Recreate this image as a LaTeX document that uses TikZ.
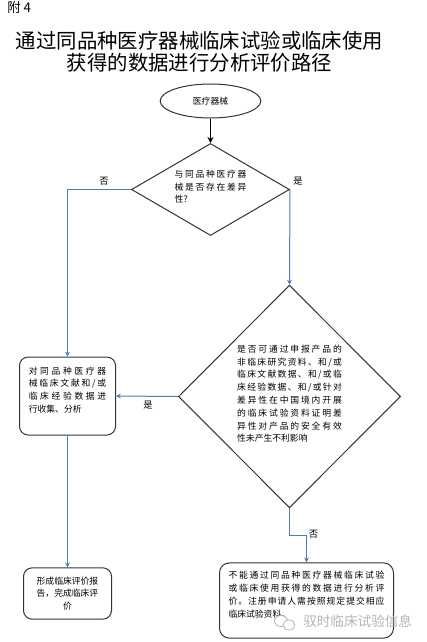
\documentclass[tikz,border=0pt]{standalone}
\usepackage{fontspec}
\setmainfont{Noto Sans CJK SC}
\usetikzlibrary{shapes.geometric,arrows.meta}
\definecolor{linkblue}{HTML}{4A7EBB}
\definecolor{edgegray}{HTML}{333333}
\definecolor{markgray}{HTML}{B4B4B4}
\newlength{\jw}
\def\jlx#1#2{#1\ifx#2\relax\else\hfil\expandafter\jlx\expandafter#2\fi}
\newcommand{\jl}[1]{\hbox to \jw{\jlx#1\relax}}
\tikzset{
  x=0.75pt,y=-0.75pt,
  shapeline/.style={draw=edgegray,line width=0.75pt,fill=white,inner sep=0pt,align=left},
  smalltext/.style={font=\fontsize{6.6}{9.6}\selectfont},
  flow/.style={draw=linkblue,line width=0.75pt,-{Stealth[length=3.6pt,width=3.6pt]}},
  startflow/.style={draw=black,line width=0.8pt,-{Stealth[length=4.5pt,width=4.5pt]}},
  roundbox/.style={shapeline,rectangle,rounded corners=6.5pt},
  branch/.style={font=\fontsize{7}{9}\selectfont,inner sep=0pt},
}
\begin{document}
\begin{tikzpicture}
\useasboundingbox (0,0) rectangle (426,642);
\node[anchor=west,inner sep=0pt,font=\fontsize{10}{12}\selectfont] (fig) at (7,7) {附 4};
\node[inner sep=0pt,align=center,font=\fontsize{15.3}{16.4}\selectfont] (title) at (199.5,52) {通过同品种医疗器械临床试验或临床使用\\获得的数据进行分析评价路径};
\node[shapeline,ellipse,minimum width=75.5pt,minimum height=25.5pt,smalltext] (start) at (210.5,101) {医疗器械};
\setlength{\jw}{54pt}
\node[shapeline,diamond,aspect=1.7,minimum width=118.5pt,minimum height=69pt,smalltext] (d1) at (210.5,189.5)
  {\jl{与同品种医疗器}\\\jl{械是否存在差异}\\性？\\[-5pt]\mbox{}};
\setlength{\jw}{78.5pt}
\node[shapeline,diamond,minimum width=166.5pt,minimum height=167pt,smalltext] (d2) at (289.5,396.5)
  {\jl{是否可通过申报产品的}\\\jl{非临床研究资料、和/或}\\\jl{临床文献数据、和/或临}\\\jl{床经验数据、和/或针对}\\\jl{差异性在中国境内开展}\\\jl{的临床试验资料证明差}\\\jl{异性对产品的安全有效}\\性未产生不利影响\\[-5pt]\mbox{}};
\setlength{\jw}{58pt}
\node[roundbox,minimum width=72pt,minimum height=58.5pt,smalltext] (b1) at (67.5,396)
  {\jl{对同品种医疗器}\\\jl{械临床文献和/或}\\\jl{临床经验数据进}\\行收集、分析\\\mbox{}};
\node[roundbox,align=center,minimum width=66pt,minimum height=38.5pt,smalltext] (b2) at (67.5,593.5)
  {形成临床评价报\\告，完成临床评\\价};
\setlength{\jw}{117pt}
\node[roundbox,rounded corners=7.5pt,minimum width=130.5pt,minimum height=56.5pt,smalltext] (b3) at (306.5,600.5)
  {\jl{不能通过同品种医疗器械临床试验}\\\jl{或临床使用获得的数据进行分析评}\\\jl{价。注册申请人需按照规定提交相应}\\临床试验资料。\\\mbox{}};
\coordinate (bend) at (306.5,535.5);
\draw[startflow] (start.south) -- (d1.north);
\draw[flow] (d1.west) -| (b1.north);
\draw[flow] (d1.east) -- (d2.north);
\draw[flow] (d2.west) -- (b1.east);
\draw[flow] (b1.south) -- (b2.north);
\draw[flow] (d2.south) |- (bend) -- (b3.north);
\node[branch] (no1) at (104,181) {否};
\node[branch] (yes1) at (298,181) {是};
\node[branch] (yes2) at (148,405) {是};
\node[branch] (no2) at (313.5,534) {否};
\draw[markgray,line width=0.6pt,fill=white] (281,621) ellipse (6.5 and 5.5);
\draw[markgray,line width=0.6pt,fill=white] (289,625) ellipse (6 and 5);
\node[anchor=west,inner sep=0pt,text=markgray,font=\fontsize{10.2}{12}\selectfont] (mark) at (303,621) {驭时临床试验信息};
\end{tikzpicture}
\end{document}
